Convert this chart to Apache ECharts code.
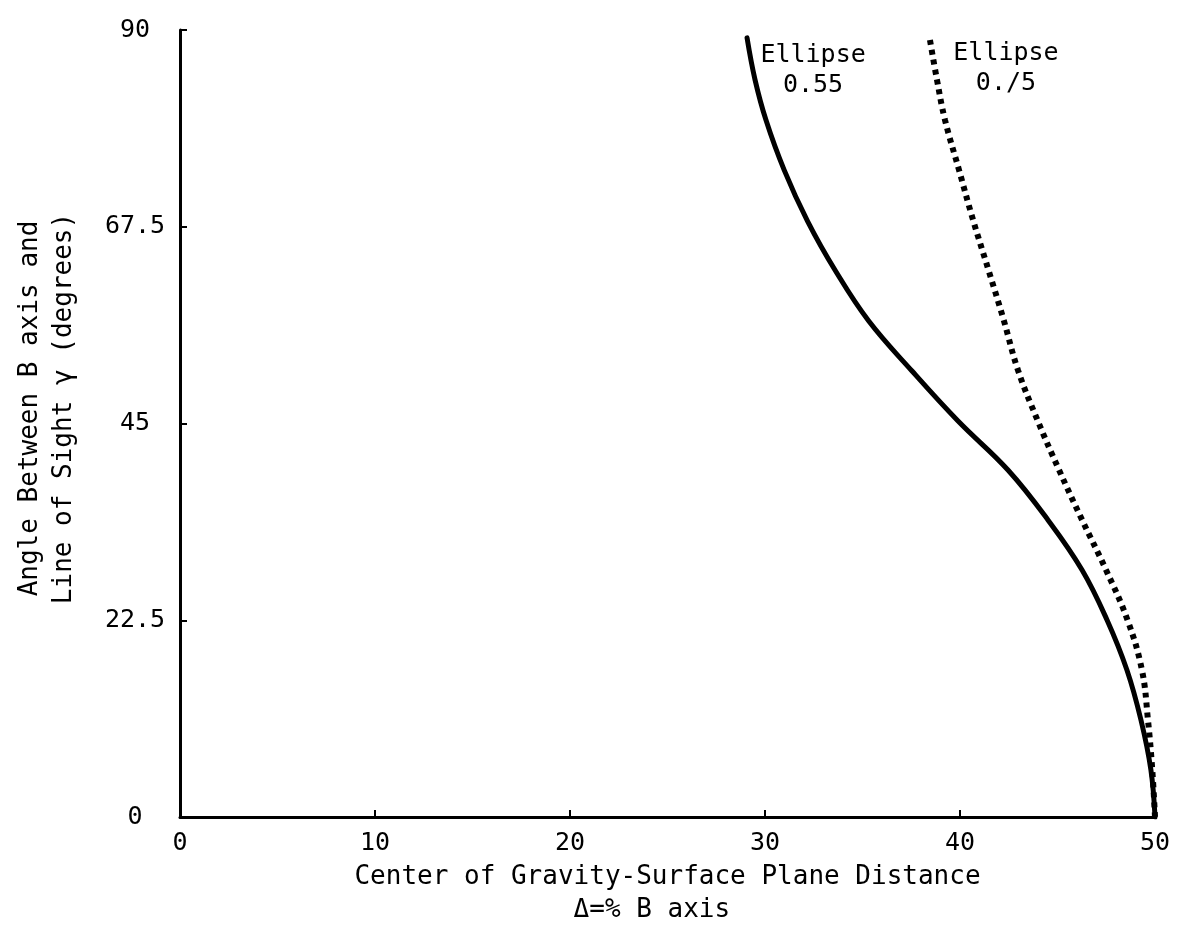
<!DOCTYPE html>
<html>
<head>
<meta charset="utf-8">
<script src="https://cdn.jsdelivr.net/npm/echarts@6/dist/echarts.min.js"></script>
<style>
  html, body { margin: 0; padding: 0; background: #ffffff; }
  #chart { width: 1177px; height: 951px; }
</style>
</head>
<body>
<div id="chart"></div>
<script>
// ---- Data ----
const xTicks = [0, 10, 20, 30, 40, 50];
const yTicks = [0, 22.5, 45, 67.5, 90];

// Ellipse 0.55 (solid curve): [distance %, angle deg]
const ellipse055X = [29.08, 29.49, 30.05, 30.98, 32.18, 33.62, 35.32, 37.54, 39.90, 42.46, 44.51, 46.26, 47.54, 48.56, 49.28, 49.79, 50.0];
const ellipse055Y = [89.1, 84.3, 79.7, 74.0, 68.15, 62.44, 56.72, 51.0, 45.28, 39.68, 33.97, 28.25, 22.53, 16.81, 11.09, 5.38, 0];

// Ellipse 0.75 (dotted curve)
const ellipse075X = [38.46, 38.82, 39.23, 39.95, 40.67, 41.46, 42.24, 42.97, 43.97, 45.08, 46.26, 47.49, 48.59, 49.33, 49.64, 49.86, 50.0];
const ellipse075Y = [88.86, 84.29, 79.71, 73.99, 68.27, 62.56, 56.84, 51.12, 45.40, 39.68, 33.97, 28.25, 22.53, 16.81, 11.09, 5.38, 0];

const seriesNames = ['Ellipse 0.55', 'Ellipse 0.75'];
const seriesLabels = ['Ellipse\n0.55', 'Ellipse\n0./5'];

const xTitle = 'Center of Gravity-Surface Plane Distance\nΔ=% B axis  ';
const yTitle = 'Angle Between B axis and\nLine of Sight γ (degrees)';

// ---- Build ----
const FONT = "'DejaVu Sans Mono', monospace";
const zip = (xs, ys) => xs.map((x, i) => [x, ys[i]]);
const d055 = zip(ellipse055X, ellipse055Y);
const d075 = zip(ellipse075X, ellipse075Y);

function labelPoint(data, text, offset) {
  return {
    symbol: 'rect',
    symbolSize: 1,
    silent: true,
    animation: false,
    itemStyle: { color: 'rgba(0,0,0,0)' },
    label: {
      show: true,
      position: 'inside',
      offset: offset,
      formatter: text,
      color: '#000',
      fontFamily: FONT,
      fontSize: 25,
      lineHeight: 30,
      align: 'center'
    },
    data: [{ coord: data[0] }]
  };
}

const chart = echarts.init(document.getElementById('chart'), null, { renderer: 'canvas' });
chart.setOption({
  animation: false,
  backgroundColor: '#ffffff',
  grid: { left: 180, right: 22, top: 30, bottom: 134, containLabel: false },
  xAxis: {
    type: 'value',
    min: xTicks[0],
    max: xTicks[xTicks.length - 1],
    interval: xTicks[1] - xTicks[0],
    name: xTitle,
    nameLocation: 'middle',
    nameGap: 31,
    nameTextStyle: { color: '#000', fontFamily: FONT, fontSize: 26, lineHeight: 33, align: 'center' },
    axisLine: { show: true, lineStyle: { color: '#000', width: 3 } },
    axisTick: { show: true, inside: true, length: 7, lineStyle: { color: '#000', width: 2 } },
    axisLabel: { color: '#000', fontFamily: FONT, fontSize: 25, margin: 14 },
    splitLine: { show: false }
  },
  yAxis: {
    type: 'value',
    min: yTicks[0],
    max: yTicks[yTicks.length - 1],
    interval: yTicks[1] - yTicks[0],
    name: yTitle,
    nameLocation: 'middle',
    nameGap: 99,
    nameRotate: 90,
    nameTextStyle: { color: '#000', fontFamily: FONT, fontSize: 26, lineHeight: 34, align: 'center', padding: [0, 0, 0, 30] },
    axisLine: { show: true, lineStyle: { color: '#000', width: 3 } },
    axisTick: { show: true, inside: true, length: 7, lineStyle: { color: '#000', width: 2 } },
    axisLabel: { color: '#000', fontFamily: FONT, fontSize: 25, margin: 45, align: 'center' },
    splitLine: { show: false }
  },
  series: [
    {
      name: seriesNames[0],
      type: 'line',
      data: d055,
      smooth: 0.4,
      showSymbol: false,
      lineStyle: { color: '#000', width: 5, cap: 'round' },
      markPoint: labelPoint(d055, seriesLabels[0], [66, 33])
    },
    {
      name: seriesNames[1],
      type: 'line',
      data: d075,
      smooth: 0.4,
      showSymbol: false,
      lineStyle: { color: '#000', width: 6, type: [5, 5], cap: 'butt' },
      markPoint: labelPoint(d075, seriesLabels[1], [76, 29])
    }
  ]
});
</script>
</body>
</html>
